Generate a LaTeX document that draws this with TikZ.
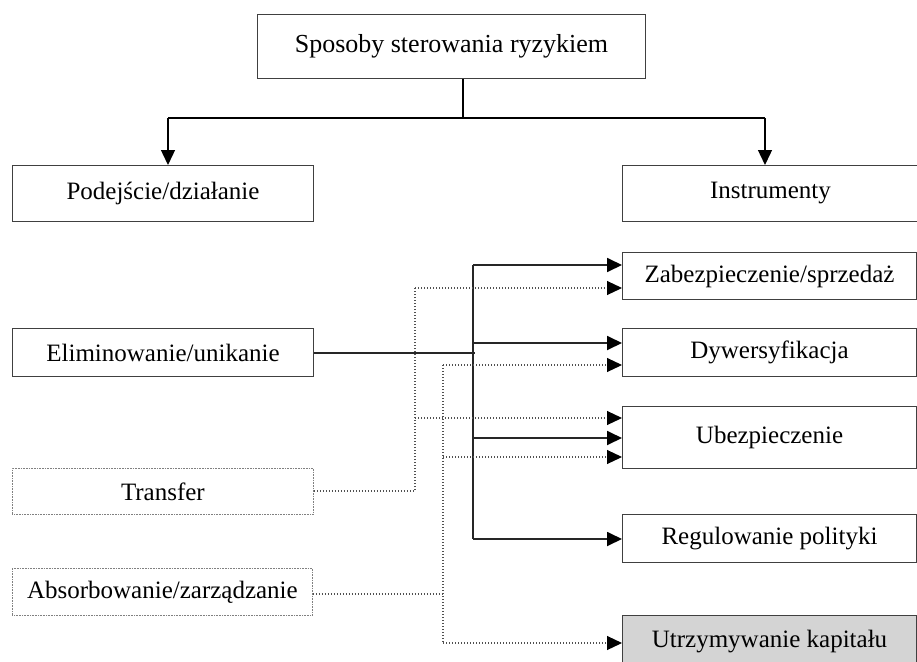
\documentclass[tikz,border=0pt]{standalone}
\usepackage{fontspec}
\setmainfont{Liberation Serif}
\usetikzlibrary{arrows.meta}
\definecolor{boxline}{HTML}{404040}
\definecolor{dotline}{HTML}{505050}
\definecolor{capfill}{HTML}{D4D4D4}
\tikzset{
  x=1pt, y=-1pt,
  box/.style={draw=boxline, line width=1pt, inner sep=0pt, anchor=north west, font=\fontsize{25}{28}\selectfont},
  dbox/.style={box, draw=gray, dash pattern=on 1pt off 0.6pt, line width=0.8pt},
  sol/.style={draw=black!85, line width=1.8pt},
  dot/.style={draw=dotline, line width=1.1pt, dash pattern=on 1.1pt off 1.9pt},
  tip/.style={-{Triangle[length=15pt,width=14pt,color=black]}},
}
\begin{document}
\begin{tikzpicture}
\useasboundingbox (0,0) rectangle (917,661);
% boxes
\node[box, minimum width=388pt, minimum height=64pt, font=\fontsize{26}{29}\selectfont] (top) at (257,14) {Sposoby sterowania ryzykiem};
\node[box, minimum width=301pt, minimum height=56pt] (pod) at (12,165) {Podejście/działanie};
\node[box, minimum width=296pt, minimum height=56pt] (ins) at (622,165) {Instrumenty};
\node[box, minimum width=301pt, minimum height=48pt] (eli) at (12,328) {Eliminowanie/unikanie};
\node[dbox, minimum width=301pt, minimum height=46pt] (tra) at (12,468) {Transfer};
\node[dbox, minimum width=300pt, minimum height=47pt] (abs) at (12,568) {Absorbowanie/zarządzanie};
\node[box, minimum width=294pt, minimum height=47pt] (zab) at (622,252) {Zabezpieczenie/sprzedaż};
\node[box, minimum width=294pt, minimum height=48pt] (dyw) at (622,328) {Dywersyfikacja};
\node[box, minimum width=294pt, minimum height=62pt] (ube) at (622,406) {Ubezpieczenie};
\node[box, minimum width=294pt, minimum height=48pt] (reg) at (622,514) {Regulowanie polityki};
\node[box, fill=capfill, minimum width=294pt, minimum height=52pt] (utr) at (622,615) {Utrzymywanie kapitału};
% top connectors
\coordinate (tj) at (463,118);
\coordinate (tl) at (168,118);
\coordinate (tr) at (765,118);
\draw[draw=black, line width=1.4pt] (top.south -| tj) -- (tj);
\draw[draw=black, line width=1.4pt] (tl) -- (tr);
\draw[draw=black, line width=1.4pt, tip] (tl) -- (tl |- pod.north);
\draw[draw=black, line width=1.4pt, tip] (tr) -- (tr |- ins.north);
% solid: eliminowanie
\coordinate (s1) at (473,265);
\coordinate (s2) at (473,343);
\coordinate (s3) at (473,438);
\coordinate (s4) at (473,539);
\coordinate (ej) at (475,353);
\draw[sol] (eli.east |- ej) -- (ej);
\draw[sol] (s1) -- (s4);
\draw[sol, tip] (s1) -- (zab.west |- s1);
\draw[sol, tip] (s2) -- (dyw.west |- s2);
\draw[sol, tip] (s3) -- (ube.west |- s3);
\draw[sol, tip] (s4) -- (reg.west |- s4);
% dotted: transfer
\coordinate (t0) at (415,491);
\coordinate (t1) at (415,288);
\coordinate (t2) at (415,418);
\draw[dot] (tra.east |- t0) -- (t0) -- (t1);
\draw[dot, tip] (t1) -- (zab.west |- t1);
\draw[dot, tip] (t2) -- (ube.west |- t2);
% dotted: absorbowanie
\coordinate (a0) at (443,594);
\coordinate (a1) at (443,365);
\coordinate (a2) at (443,457);
\coordinate (a3) at (443,643);
\draw[dot] (abs.east |- a0) -- (a0);
\draw[dot] (a1) -- (a3);
\draw[dot, tip] (a1) -- (dyw.west |- a1);
\draw[dot, tip] (a2) -- (ube.west |- a2);
\draw[dot, tip] (a3) -- (utr.west |- a3);
\end{tikzpicture}
\end{document}
